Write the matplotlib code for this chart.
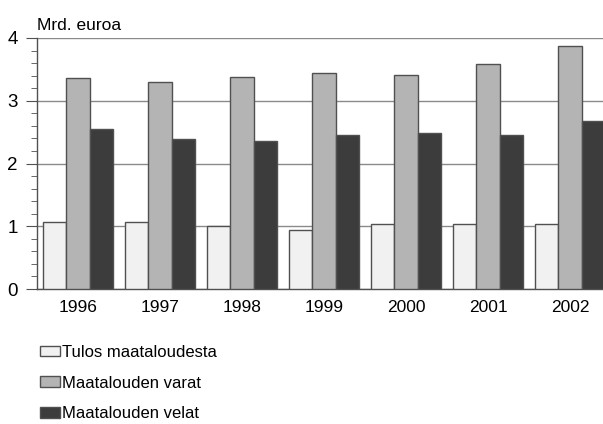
import matplotlib.pyplot as plt
import numpy as np
from matplotlib.ticker import MultipleLocator

plt.rcParams['font.family'] = ['Liberation Sans', 'DejaVu Sans']

years = ['1996', '1997', '1998', '1999', '2000', '2001', '2002']
tulos = [1.07, 1.07, 1.00, 0.94, 1.04, 1.04, 1.04]
varat = [3.37, 3.30, 3.38, 3.45, 3.41, 3.59, 3.88]
velat = [2.55, 2.39, 2.36, 2.45, 2.49, 2.46, 2.68]

names = ['Tulos maataloudesta', 'Maatalouden varat', 'Maatalouden velat']
colors = ['#f1f1f1', '#b4b4b4', '#3c3c3c']

fig = plt.figure(figsize=(6.03, 4.24), dpi=100)
ax = fig.add_axes([37 / 603, 1 - 289 / 424, 1 - 37 / 603, 251 / 424])

x = np.arange(len(years))
w = 0.285
bars = []
for k, vals in enumerate([tulos, varat, velat]):
    b = ax.bar(x + (k - 1) * w, vals, w, color=colors[k], edgecolor='#505050',
               linewidth=1.0, zorder=3, label=names[k])
    bars.append(b)

ax.set_ylim(0, 4)
ax.set_xlim(-0.5, 6.40)
ax.yaxis.set_major_locator(MultipleLocator(1))
ax.yaxis.set_minor_locator(MultipleLocator(0.2))
ax.grid(axis='y', color='#8a8a8a', linewidth=1.0, zorder=0)
for s in ['top', 'right']:
    ax.spines[s].set_visible(False)
for s in ['left', 'bottom']:
    ax.spines[s].set_color('#505050')
    ax.spines[s].set_linewidth(1.0)
ax.tick_params(axis='y', which='major', length=8, color='#505050', labelsize=13.5, pad=6)
ax.tick_params(axis='y', which='minor', length=4, color='#505050')
ax.tick_params(axis='x', length=0, labelsize=12.5, pad=8)
ax.set_xticks(x)
ax.set_xticklabels(years)

fig.text(37 / 603, 1 - 30 / 424, 'Mrd. euroa', fontsize=12.5, va='baseline', ha='left')

fig.legend(handles=bars, labels=names, loc='upper left',
           bbox_to_anchor=(33 / 603, 1 - 338 / 424), frameon=False,
           fontsize=12, handlelength=1.2, handleheight=0.6,
           handletextpad=0.12, labelspacing=0.95, borderaxespad=0)

fig.savefig('out.png', dpi=100)
